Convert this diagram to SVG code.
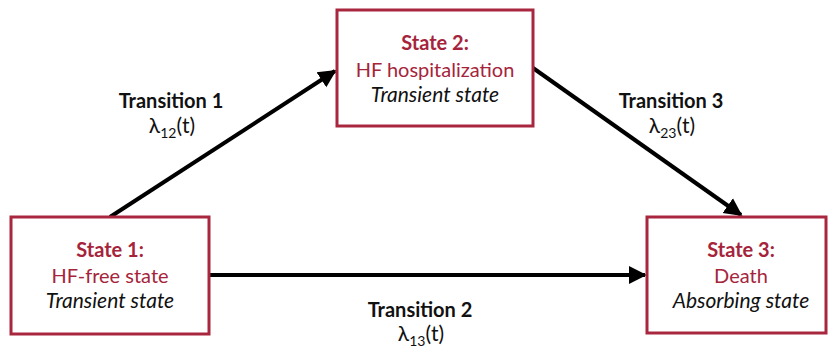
<svg xmlns="http://www.w3.org/2000/svg" width="832" height="350" viewBox="0 0 832 350">
<defs>
<style>
.box{fill:#fff;stroke:#a8273f;stroke-width:3}
.t{font-family:Lato,"Liberation Sans",sans-serif;font-size:20px;text-anchor:middle}
.h{fill:#a5243b;font-weight:bold}
.s{fill:#a5243b}
.i{fill:#111;font-style:italic;font-size:21px}
.l{fill:#111;font-weight:bold}
.g{fill:#111;font-size:21px}
.e{stroke:#000;stroke-width:4;fill:none;marker-end:url(#ah)}
</style>
<marker id="ah" viewBox="0 0 10 10" refX="9" refY="5" markerWidth="4.5" markerHeight="5" orient="auto" markerUnits="strokeWidth">
<path d="M0,0 L10,5 L0,10 z" fill="#000"/>
</marker>
</defs>
<rect width="832" height="350" fill="#fff"/>
<g id="connectors">
<line class="e" x1="110" y1="217" x2="335" y2="71"/>
<line class="e" x1="533" y1="68" x2="741" y2="215"/>
<line class="e" x1="209" y1="275" x2="645" y2="275"/>
</g>
<g id="labels">
<text class="t l" x="171" y="108">Transition 1</text>
<text class="t g" x="172" y="133">λ<tspan font-size="14" dy="5">12</tspan><tspan dy="-5">(t)</tspan></text>
<text class="t l" x="671" y="108">Transition 3</text>
<text class="t g" x="672" y="133">λ<tspan font-size="14" dy="5">23</tspan><tspan dy="-5">(t)</tspan></text>
<text class="t l" x="420" y="317">Transition 2</text>
<text class="t g" x="421" y="341">λ<tspan font-size="14" dy="5">13</tspan><tspan dy="-5">(t)</tspan></text>
</g>
<g id="state1">
<rect class="box" x="11" y="217" width="198" height="117"/>
<text class="t h" x="110" y="257">State 1:</text>
<text class="t s" x="110" y="283">HF-free state</text>
<text class="t i" x="110" y="308">Transient state</text>
</g>
<g id="state2">
<rect class="box" x="337" y="10" width="196" height="116"/>
<text class="t h" x="435" y="50">State 2:</text>
<text class="t s" x="435" y="77">HF hospitalization</text>
<text class="t i" x="435" y="102">Transient state</text>
</g>
<g id="state3">
<rect class="box" x="647" y="217" width="179" height="116"/>
<text class="t h" x="741" y="257">State 3:</text>
<text class="t s" x="741" y="283">Death</text>
<text class="t i" x="741" y="308">Absorbing state</text>
</g>
</svg>
